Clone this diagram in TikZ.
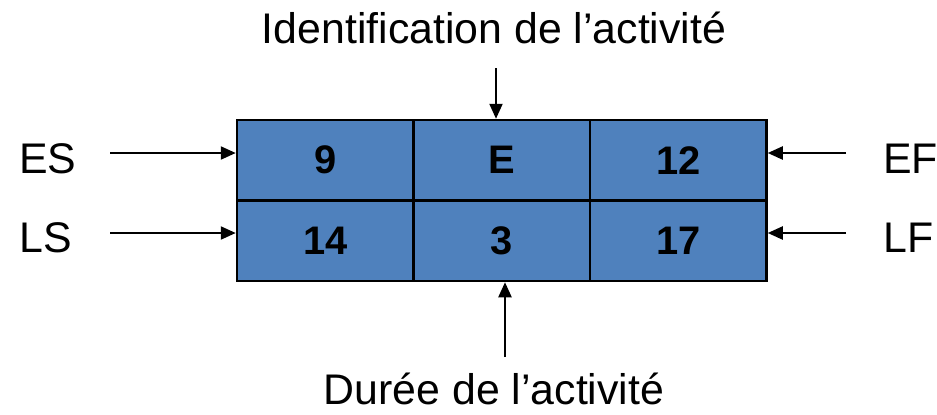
\documentclass[tikz,border=0pt]{standalone}
\usepackage{fontspec}
\setmainfont{Liberation Sans}
\usetikzlibrary{arrows.meta,calc}
\definecolor{cellblue}{HTML}{4F81BD}
\tikzset{
  cell/.style={draw=black, line width=2.5bp, fill=cellblue, minimum width=176.5bp,
    minimum height=80.5bp, inner sep=0pt, font=\fontsize{40}{46}\selectfont\bfseries},
  lab/.style={font=\fontsize{43}{50}\selectfont, inner sep=0pt},
  arr/.style={line width=2.2bp, -{Triangle[length=15bp,width=13bp]}}
}
\begin{document}
\begin{tikzpicture}[x=1bp,y=-1bp]
\useasboundingbox (0,0) rectangle (937,414);
% activity grid
\node[cell] (c11) at (325.25,160.25) {9};
\node[cell] (c12) at (501.75,160.25) {E};
\node[cell] (c13) at (678.25,160.25) {12};
\node[cell] (c21) at (325.25,240.75) {14};
\node[cell] (c22) at (501.75,240.75) {3};
\node[cell] (c23) at (678.25,240.75) {17};
% side labels
\node[lab, anchor=base west] (es) at (19,173) {ES};
\node[lab, anchor=base west] (ls) at (19,252) {LS};
\node[lab, anchor=base west] (ef) at (883,173) {EF};
\node[lab, anchor=base west] (lf) at (883,252) {LF};
\node[lab, anchor=base] (top) at (494,43) {Identification de l’activité};
\node[lab, anchor=base] (bot) at (494,404) {Durée de l’activité};
% arrow tails
\coordinate (esA) at (110,153);
\coordinate (lsA) at (110,233);
\coordinate (efA) at (846,153);
\coordinate (lfA) at (846,233);
\coordinate (topA) at (496,68);
\coordinate (botA) at (505,357);
% arrows
\draw[arr] (esA) -- (esA -| c11.west);
\draw[arr] (lsA) -- (lsA -| c21.west);
\draw[arr] (efA) -- (efA -| c13.east);
\draw[arr] (lfA) -- (lfA -| c23.east);
\draw[arr] (topA) -- (topA |- c12.north);
\draw[arr] (botA) -- (botA |- c22.south);
\end{tikzpicture}
\end{document}
